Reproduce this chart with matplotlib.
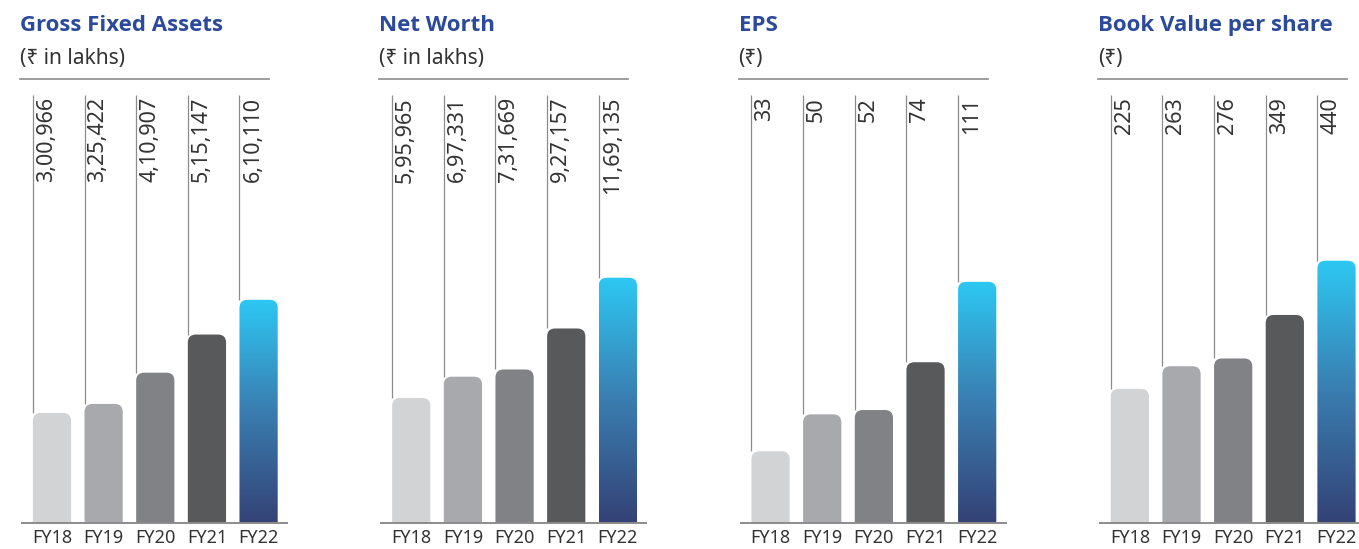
import matplotlib
matplotlib.use("Agg")
import matplotlib.pyplot as plt
import numpy as np
from matplotlib.patches import FancyBboxPatch
from matplotlib.lines import Line2D
from matplotlib.colors import LinearSegmentedColormap

years = ["FY18", "FY19", "FY20", "FY21", "FY22"]
titles = ["Gross Fixed Assets", "Net Worth", "EPS", "Book Value per share"]
subtitles = ["(₹ in lakhs)", "(₹ in lakhs)", "(₹)", "(₹)"]
gross_fixed_assets = [300966, 325422, 410907, 515147, 610110]
net_worth = [595965, 697331, 731669, 927157, 1169135]
eps = [33, 50, 52, 74, 111]
book_value = [225, 263, 276, 349, 440]
labels_gfa = ["3,00,966", "3,25,422", "4,10,907", "5,15,147", "6,10,110"]
labels_nw = ["5,95,965", "6,97,331", "7,31,669", "9,27,157", "11,69,135"]
labels_eps = ["33", "50", "52", "74", "111"]
labels_bv = ["225", "263", "276", "349", "440"]

series = [gross_fixed_assets, net_worth, eps, book_value]
labels = [labels_gfa, labels_nw, labels_eps, labels_bv]
ymax = [1170000, 2040000, 197, 718]

bar_colors = ["#D1D3D4", "#A7A9AC", "#808285", "#58595B", None]
grad = LinearSegmentedColormap.from_list("g", ["#344276", "#3A7DB0", "#2DC8F3"])
title_color = "#2B4A9B"
text_color = "#333333"
line_color = "#8C8C8C"

W, H = 1359, 549
fig = plt.figure(figsize=(W / 100, H / 100), dpi=100)
fig.patch.set_facecolor("white")

step = 359.3
ax_left, ax_w = 22, 265
base_y, top_y = 523, 95
radius_px = 8
bar_w = 0.74
fam = ["Noto Sans", "DejaVu Sans"]

for i in range(4):
    off = i * step
    ax = fig.add_axes([(ax_left + off) / W, (H - base_y) / H, ax_w / W, (base_y - top_y) / H])
    ax.set_xlim(-0.58, 4.55)
    ax.set_ylim(0, ymax[i])
    x = np.arange(len(years))
    bars = ax.bar(x, series[i], width=bar_w, color="none", edgecolor="none")
    px_per_x = ax_w / (4.55 + 0.58)
    y_per_px = ymax[i] / (base_y - top_y)
    r_x = radius_px / px_per_x
    aspect = y_per_px * px_per_x
    r_y = radius_px * y_per_px
    for j, b in enumerate(bars):
        bx, bw, bh = b.get_x(), b.get_width(), b.get_height()
        patch = FancyBboxPatch((bx, -r_y * 2), bw, bh + r_y * 2,
                               boxstyle=f"round,pad=0,rounding_size={r_x}",
                               mutation_aspect=aspect, linewidth=0,
                               facecolor=bar_colors[j] if bar_colors[j] else "none",
                               zorder=2)
        ax.add_patch(patch)
        if bar_colors[j] is None:
            g = np.linspace(0, 1, 256).reshape(-1, 1)
            im = ax.imshow(g, cmap=grad, origin="lower", aspect="auto",
                           extent=[bx, bx + bw, 0, bh], zorder=2)
            im.set_clip_path(patch)
        ax.plot([bx, bx], [bh, ymax[i]], color=line_color, lw=0.9, zorder=1,
                solid_capstyle="butt")
        ax.annotate(labels[i][j], xy=(bx, ymax[i]), xytext=(3, -2),
                    textcoords="offset pixels", rotation=90, ha="left", va="top",
                    fontsize=15.5, color=text_color, family=fam)
    ax.set_xlim(-0.58, 4.55)
    ax.set_ylim(0, ymax[i])
    ax.set_xticks(x)
    ax.set_xticklabels(years, fontsize=13, color=text_color, family=fam)
    ax.tick_params(axis="x", length=0, pad=4)
    ax.set_yticks([])
    for s in ["left", "right", "top"]:
        ax.spines[s].set_visible(False)
    ax.spines["bottom"].set_color(line_color)
    ax.spines["bottom"].set_linewidth(1.4)
    ax.patch.set_alpha(0)

    fig.text((20 + off) / W, 1 - 25.5 / H, titles[i], fontsize=16, fontweight="bold",
             color=title_color, va="center", ha="left", family=["Open Sans", "DejaVu Sans"])
    fig.text((20 + off) / W, 1 - 58.5 / H, subtitles[i], fontsize=15,
             color=text_color, va="center", ha="left", family=fam)
    fig.add_artist(Line2D([(20 + off) / W, (269 + off) / W], [1 - 79 / H, 1 - 79 / H],
                          color=line_color, lw=1.2))

fig.savefig("out.png", dpi=100)
